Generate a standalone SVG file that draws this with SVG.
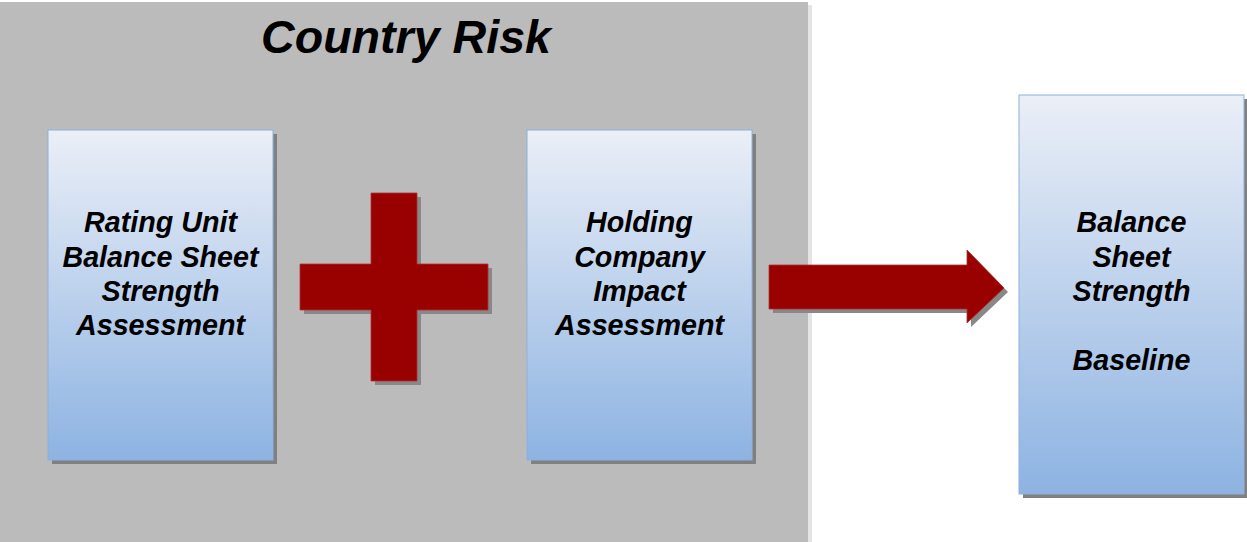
<svg xmlns="http://www.w3.org/2000/svg" width="1247" height="542" viewBox="0 0 1247 542">
<defs>
<linearGradient id="boxGrad" x1="0" y1="0" x2="0" y2="1">
<stop offset="0" stop-color="#EBEFF7"/>
<stop offset="1" stop-color="#8DB3E2"/>
</linearGradient>
</defs>
<style>
.panel{fill:#BBBBBB}
.panelShadow{fill:#E4E4E4}
.box{fill:url(#boxGrad);stroke:#8EB0DE;stroke-width:1}
.shadow{fill:#808080}
.red{fill:#990000;stroke:#B03030;stroke-width:0.8}
.redShadow{fill:#888888}
.title{font-family:"Liberation Sans",Arial,sans-serif;font-weight:bold;font-style:italic;font-size:46.6px;fill:#000;text-anchor:middle}
.lbl{font-family:"Liberation Sans",Arial,sans-serif;font-weight:bold;font-style:italic;font-size:28.7px;fill:#000;text-anchor:middle}
</style>
<rect x="0" y="0" width="1247" height="542" fill="#FFFFFF"/>
<g id="country-risk">
<rect class="panelShadow" x="2" y="5" width="810" height="545"/>
<rect class="panel" x="-2" y="2" width="810" height="545"/>
<text class="title" x="406" y="53">Country Risk</text>
</g>
<g id="rating-unit">
<rect class="shadow" x="52" y="134" width="225" height="330"/>
<rect class="box" x="48" y="130" width="225" height="330"/>
<text class="lbl" x="160.5" y="232">Rating Unit</text>
<text class="lbl" x="160.5" y="266.5">Balance Sheet</text>
<text class="lbl" x="160.5" y="301">Strength</text>
<text class="lbl" x="160.5" y="335">Assessment</text>
</g>
<g id="plus">
<path class="redShadow" d="M375,197 H421 V268 H492 V314 H421 V385 H375 V314 H304 V268 H375 Z"/>
<path class="red" d="M371,193 H417 V264 H488 V310 H417 V381 H371 V310 H300 V264 H371 Z"/>
</g>
<g id="holding-company">
<rect class="shadow" x="531" y="134" width="225" height="330"/>
<rect class="box" x="527" y="130" width="225" height="330"/>
<text class="lbl" x="639.5" y="232">Holding</text>
<text class="lbl" x="639.5" y="266.5">Company</text>
<text class="lbl" x="639.5" y="301">Impact</text>
<text class="lbl" x="639.5" y="335">Assessment</text>
</g>
<g id="baseline">
<rect class="shadow" x="1023" y="99" width="225" height="399"/>
<rect class="box" x="1019" y="95" width="225" height="399"/>
<text class="lbl" x="1131.5" y="232">Balance</text>
<text class="lbl" x="1131.5" y="266.5">Sheet</text>
<text class="lbl" x="1131.5" y="301">Strength</text>
<text class="lbl" x="1131.5" y="370">Baseline</text>
</g>
<g id="connectors">
<path class="redShadow" d="M773,269 H971 V254 L1008,292 L971,327 V313 H773 Z"/>
<path class="red" d="M769,265 H967 V250 L1004,288 L967,323 V309 H769 Z"/>
</g>
</svg>
